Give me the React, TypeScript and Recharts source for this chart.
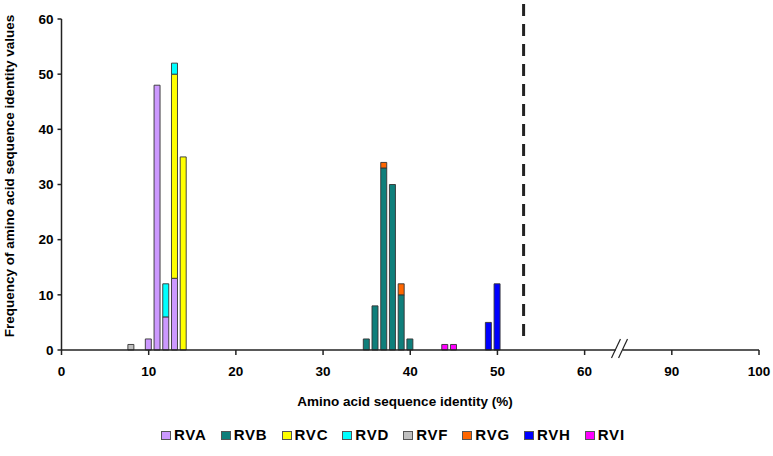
import React from 'react';
import { BarChart, Bar, XAxis, YAxis, ReferenceLine, Legend } from 'recharts';

// Amino acid sequence identity positions (%) on the axis
const identities = [8, 10, 11, 12, 13, 14, 35, 36, 37, 38, 39, 40, 44, 45, 49, 50];

// Frequencies per rotavirus species, aligned with identities
const RVA = [0, 2, 48, 6, 13, 0, 0, 0, 0, 0, 0, 0, 0, 0, 0, 0];
const RVB = [0, 0, 0, 0, 0, 0, 2, 8, 33, 30, 10, 2, 0, 0, 0, 0];
const RVC = [0, 0, 0, 0, 37, 35, 0, 0, 0, 0, 0, 0, 0, 0, 0, 0];
const RVD = [0, 0, 0, 6, 2, 0, 0, 0, 0, 0, 0, 0, 0, 0, 0, 0];
const RVF = [1, 0, 0, 0, 0, 0, 0, 0, 0, 0, 0, 0, 0, 0, 0, 0];
const RVG = [0, 0, 0, 0, 0, 0, 0, 0, 1, 0, 2, 0, 0, 0, 0, 0];
const RVH = [0, 0, 0, 0, 0, 0, 0, 0, 0, 0, 0, 0, 0, 0, 5, 12];
const RVI = [0, 0, 0, 0, 0, 0, 0, 0, 0, 0, 0, 0, 1, 1, 0, 0];

const seriesNames = ['RVA', 'RVB', 'RVC', 'RVD', 'RVF', 'RVG', 'RVH', 'RVI'];
const seriesValues = [RVA, RVB, RVC, RVD, RVF, RVG, RVH, RVI];
const seriesColors = ['#CC99FF', '#0F7F7B', '#FFFF00', '#00FFFF', '#C0C0C0', '#FF6600', '#0000FF', '#FF00FF'];

// X axis (broken between 60 and 90): axis positions and their labels
const xTickPositions = [0, 10, 20, 30, 40, 50, 60, 70, 80];
const xTickLabels = ['0', '10', '20', '30', '40', '50', '60', '90', '100'];
const yTicks = [0, 10, 20, 30, 40, 50, 60];

// Cut-off (dashed line) and axis break positions
const cutoff = 53;
const breakLeft = 63.56;
const breakRight = 64.37;

const data = identities.map((id, i) => {
  const row: Record<string, number | null> = { id };
  seriesNames.forEach((n, k) => {
    row[n] = seriesValues[k][i] > 0 ? seriesValues[k][i] : null;
  });
  return row;
});

const FONT = '"Liberation Sans", Arial, sans-serif';

const LegendContent = () => (
  <div
    style={{
      display: 'flex',
      gap: 14,
      paddingLeft: 161,
      fontFamily: FONT,
      fontWeight: 'bold',
      fontSize: 15,
      letterSpacing: 0.8,
      color: '#000',
      alignItems: 'center',
      lineHeight: '18px',
    }}
  >
    {seriesNames.map((n, k) => (
      <div key={n} style={{ display: 'flex', alignItems: 'center' }}>
        <span
          style={{
            display: 'inline-block',
            width: 8,
            height: 7,
            background: seriesColors[k],
            border: '1px solid #555',
            marginRight: 3,
          }}
        />
        <span>{n}</span>
      </div>
    ))}
  </div>
);

export default function App() {
  return (
    <div style={{ position: 'absolute', left: 0, top: 0, width: 773, height: 456, background: '#fff' }}>
      <BarChart
        width={773}
        height={456}
        data={data}
        margin={{ top: 19, right: 14, left: 11.5, bottom: 56 }}
        barSize={6}
      >
        <XAxis
          dataKey="id"
          type="number"
          domain={[0, 80]}
          ticks={xTickPositions}
          tickFormatter={(v: number) => xTickLabels[xTickPositions.indexOf(v)]}
          axisLine={false}
          tickLine={{ stroke: '#222', strokeWidth: 1.5 }}
          tickSize={5}
          tickMargin={11}
          height={30}
          allowDataOverflow
          tick={{ fill: '#000', fontSize: 13.5, fontWeight: 'bold', fontFamily: FONT }}
          label={{
            content: () => (
              <text
                x={405}
                y={406}
                textAnchor="middle"
                fontFamily={FONT}
                fontWeight="bold"
                fontSize={13.5}
                fill="#000"
              >
                Amino acid sequence identity (%)
              </text>
            ),
          }}
        />
        <YAxis
          type="number"
          domain={[0, 60]}
          ticks={yTicks}
          width={50}
          axisLine={{ stroke: '#222', strokeWidth: 1.5 }}
          tickLine={{ stroke: '#222', strokeWidth: 1.5 }}
          tickSize={4}
          tickMargin={4}
          tick={{ fill: '#000', fontSize: 13.5, fontWeight: 'bold', fontFamily: FONT }}
          label={{
            content: () => (
              <text
                x={14}
                y={176}
                transform="rotate(-90 14 176)"
                textAnchor="middle"
                fontFamily={FONT}
                fontWeight="bold"
                fontSize={13.5}
                fill="#000"
              >
                Frequency of amino acid sequence identity values
              </text>
            ),
          }}
        />
        <Legend
          verticalAlign="bottom"
          height={20}
          wrapperStyle={{ top: 426, bottom: 'auto', left: 0, width: 773 }}
          content={LegendContent}
        />
        {seriesNames.map((n, k) => (
          <Bar
            key={n}
            dataKey={n}
            stackId="a"
            fill={seriesColors[k]}
            stroke="#333"
            strokeWidth={0.9}
            isAnimationActive={false}
          />
        ))}
        <ReferenceLine
          segment={[{ x: 0, y: 0 }, { x: breakLeft, y: 0 }]}
          stroke="#222"
          strokeWidth={1.5}
          ifOverflow="visible"
        />
        <ReferenceLine
          segment={[{ x: breakRight, y: 0 }, { x: 80, y: 0 }]}
          stroke="#222"
          strokeWidth={1.5}
          ifOverflow="visible"
        />
        <ReferenceLine
          segment={[{ x: breakLeft - 0.48, y: -1.45 }, { x: breakLeft + 0.55, y: 2.0 }]}
          stroke="#222"
          strokeWidth={1.2}
          ifOverflow="visible"
        />
        <ReferenceLine
          segment={[{ x: breakRight - 0.48, y: -1.45 }, { x: breakRight + 0.55, y: 2.0 }]}
          stroke="#222"
          strokeWidth={1.2}
          ifOverflow="visible"
        />
        <ReferenceLine
          segment={[{ x: cutoff, y: 62.7 }, { x: cutoff, y: 1.8 }]}
          stroke="#222"
          strokeWidth={3}
          strokeDasharray="12 8"
          ifOverflow="visible"
        />
      </BarChart>
    </div>
  );
}
